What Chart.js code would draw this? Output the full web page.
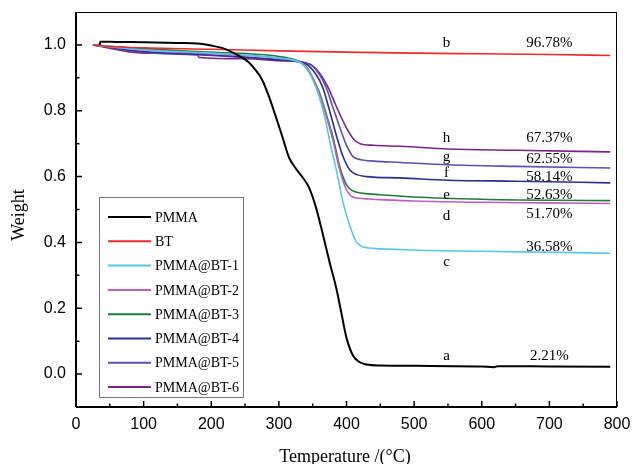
<!DOCTYPE html>
<html>
<head>
<meta charset="utf-8">
<script src="https://cdn.jsdelivr.net/npm/chart.js@4"></script>
<style>
  body { margin: 0; background: #fff; }
  #wrap { width: 634px; height: 464px; }
</style>
</head>
<body>
<div id="wrap"><canvas id="c" width="634" height="464"></canvas></div>
<script>
// Temperature (°C) / weight fraction
const seriesNames = ["PMMA", "BT", "PMMA@BT-1", "PMMA@BT-2", "PMMA@BT-3", "PMMA@BT-4", "PMMA@BT-5", "PMMA@BT-6"];
const seriesColors = ["#000000", "#ee2b2b", "#55c8e2", "#c25cbe", "#1f7d3f", "#2b2f8f", "#5b50b6", "#7b2488"];
const seriesWidths = [2, 1.6, 1.6, 1.6, 1.6, 1.6, 1.6, 1.6];

const pmmaT = [35, 36, 60, 100, 150, 180, 200, 220, 240, 255, 265, 275, 285, 295, 305, 315, 325, 335, 345, 355, 365, 375, 385, 392, 400, 410, 420, 430, 450, 500, 600, 618, 624, 700, 790];
const pmmaW = [1.0, 1.01, 1.009, 1.008, 1.006, 1.004, 0.998, 0.988, 0.968, 0.948, 0.925, 0.895, 0.845, 0.785, 0.722, 0.658, 0.625, 0.598, 0.565, 0.505, 0.425, 0.34, 0.26, 0.19, 0.11, 0.055, 0.036, 0.029, 0.026, 0.025, 0.023, 0.021, 0.024, 0.023, 0.022];

const btT = [25, 50, 100, 200, 300, 400, 500, 600, 700, 790];
const btW = [1.0, 0.995, 0.991, 0.987, 0.982, 0.978, 0.975, 0.973, 0.971, 0.968];

const bt1T = [25, 100, 200, 300, 330, 340, 350, 360, 368, 376, 385, 395, 405, 415, 425, 440, 500, 600, 700, 790];
const bt1W = [1.0, 0.985, 0.975, 0.96, 0.948, 0.93, 0.895, 0.84, 0.78, 0.70, 0.62, 0.52, 0.45, 0.40, 0.386, 0.382, 0.377, 0.373, 0.370, 0.367];

const bt2T = [25, 100, 200, 300, 330, 340, 350, 360, 370, 380, 390, 400, 410, 425, 450, 500, 600, 700, 790];
const bt2W = [1.0, 0.984, 0.973, 0.96, 0.948, 0.935, 0.90, 0.85, 0.785, 0.71, 0.62, 0.56, 0.537, 0.533, 0.530, 0.526, 0.522, 0.520, 0.518];

const bt3T = [25, 100, 200, 300, 330, 340, 350, 360, 370, 380, 390, 400, 410, 425, 450, 500, 600, 700, 790];
const bt3W = [1.0, 0.988, 0.978, 0.965, 0.95, 0.935, 0.90, 0.855, 0.79, 0.72, 0.63, 0.575, 0.556, 0.549, 0.545, 0.538, 0.531, 0.528, 0.527];

const bt4T = [25, 100, 200, 300, 340, 355, 365, 375, 385, 395, 405, 415, 430, 480, 550, 650, 790];
const bt4W = [1.0, 0.98, 0.97, 0.955, 0.942, 0.91, 0.87, 0.80, 0.725, 0.66, 0.62, 0.606, 0.60, 0.596, 0.589, 0.586, 0.581];

const bt5T = [25, 100, 200, 300, 345, 360, 370, 380, 390, 400, 410, 420, 440, 480, 550, 650, 790];
const bt5W = [1.0, 0.978, 0.968, 0.955, 0.942, 0.91, 0.87, 0.81, 0.75, 0.695, 0.66, 0.652, 0.647, 0.643, 0.636, 0.631, 0.626];

const bt6T = [25, 100, 180, 182, 250, 300, 345, 360, 372, 385, 400, 410, 420, 440, 480, 550, 650, 790];
const bt6W = [1.0, 0.975, 0.97, 0.962, 0.958, 0.952, 0.942, 0.915, 0.874, 0.813, 0.748, 0.715, 0.70, 0.695, 0.692, 0.684, 0.68, 0.675];

const allT = [pmmaT, btT, bt1T, bt2T, bt3T, bt4T, bt5T, bt6T];
const allW = [pmmaW, btW, bt1W, bt2W, bt3W, bt4W, bt5W, bt6W];

// curve letters and residue labels
const letterText = ["a", "b", "c", "d", "e", "f", "g", "h"];
const letterY = [0.055, 1.006, 0.339, 0.479, 0.545, 0.612, 0.658, 0.718];
const letterT = 548;
const pctText = ["2.21%", "96.78%", "36.58%", "51.70%", "52.63%", "58.14%", "62.55%", "67.37%"];
const pctY = [0.055, 1.006, 0.385, 0.485, 0.545, 0.60, 0.652, 0.718];
const pctT = 700;

const xMajor = [0, 100, 200, 300, 400, 500, 600, 700, 800];
const xMinor = [50, 150, 250, 350, 450, 550, 650, 750];
const yMajor = [0, 0.2, 0.4, 0.6, 0.8, 1.0];
const yMinor = [-0.1, 0.1, 0.3, 0.5, 0.7, 0.9];

const datasets = seriesNames.map((name, i) => ({
  label: name,
  data: allT[i].map((t, j) => ({ x: t, y: allW[i][j] })),
  borderColor: seriesColors[i],
  backgroundColor: seriesColors[i],
  borderWidth: seriesWidths[i],
  pointRadius: 0,
  cubicInterpolationMode: "monotone",
  fill: false
}));

const serif = "'Liberation Serif', 'Times New Roman', serif";

const decorations = {
  id: "decorations",
  afterDraw(chart) {
    const ctx = chart.ctx;
    const a = chart.chartArea;
    const xs = chart.scales.x, ys = chart.scales.y;
    ctx.save();
    // frame
    ctx.strokeStyle = "#000";
    ctx.lineWidth = 1;
    ctx.strokeRect(a.left + 0.5, a.top + 0.5, a.right - a.left - 1, a.bottom - a.top - 1);
    ctx.lineWidth = 2;
    ctx.beginPath();
    ctx.moveTo(a.left, a.bottom);
    ctx.lineTo(a.right, a.bottom);
    ctx.moveTo(a.left, a.top);
    ctx.lineTo(a.left, a.bottom);
    ctx.stroke();
    // inward ticks
    ctx.lineWidth = 1.5;
    ctx.beginPath();
    xMajor.forEach(v => { const p = xs.getPixelForValue(v); ctx.moveTo(p, a.bottom); ctx.lineTo(p, a.bottom - 6); });
    xMinor.forEach(v => { const p = xs.getPixelForValue(v); ctx.moveTo(p, a.bottom); ctx.lineTo(p, a.bottom - 3.5); });
    yMajor.forEach(v => { const p = ys.getPixelForValue(v); ctx.moveTo(a.left, p); ctx.lineTo(a.left + 6, p); });
    yMinor.forEach(v => { const p = ys.getPixelForValue(v); ctx.moveTo(a.left, p); ctx.lineTo(a.left + 3.5, p); });
    ctx.stroke();

    // axis titles
    ctx.fillStyle = "#000";
    ctx.font = "18px " + serif;
    ctx.textAlign = "center";
    ctx.textBaseline = "alphabetic";
    ctx.fillText("Temperature /(°C)", 345, 462);
    ctx.save();
    ctx.translate(24, 215);
    ctx.rotate(-Math.PI / 2);
    ctx.fillText("Weight", 0, 0);
    ctx.restore();

    // curve annotations
    ctx.font = "15px " + serif;
    ctx.textBaseline = "middle";
    letterText.forEach((s, i) => {
      ctx.fillText(s, xs.getPixelForValue(letterT), ys.getPixelForValue(letterY[i]));
    });
    pctText.forEach((s, i) => {
      ctx.fillText(s, xs.getPixelForValue(pctT), ys.getPixelForValue(pctY[i]));
    });

    // legend box
    const bx = 99, by = 197, bw = 144, bh = 200;
    ctx.fillStyle = "#fff";
    ctx.fillRect(bx, by, bw, bh);
    ctx.strokeStyle = "#777";
    ctx.lineWidth = 1;
    ctx.strokeRect(bx + 0.5, by + 0.5, bw, bh);
    ctx.font = "14px " + serif;
    ctx.textAlign = "left";
    chart.data.datasets.forEach((ds, i) => {
      const yy = 217 + i * 24.3;
      ctx.strokeStyle = ds.borderColor;
      ctx.lineWidth = 2;
      ctx.beginPath();
      ctx.moveTo(108, yy);
      ctx.lineTo(151, yy);
      ctx.stroke();
      ctx.fillStyle = "#000";
      ctx.fillText(ds.label, 155, yy + 1);
    });
    ctx.restore();
  }
};

new Chart(document.getElementById("c"), {
  type: "line",
  data: { datasets },
  options: {
    responsive: false,
    animation: false,
    layout: { padding: { top: 12, right: 17, left: 0, bottom: 0 } },
    plugins: { legend: { display: false }, tooltip: { enabled: false } },
    scales: {
      x: {
        type: "linear",
        min: 0,
        max: 800,
        afterBuildTicks: s => { s.ticks = xMajor.map(v => ({ value: v })); },
        afterFit: s => { s.height = 57; s.paddingLeft = 0; s.paddingRight = 0; },
        grid: { display: false, drawTicks: false },
        border: { display: false },
        ticks: { color: "#000", padding: 8, font: { family: "'Liberation Sans', Arial, sans-serif", size: 16 } }
      },
      y: {
        type: "linear",
        min: -0.1,
        max: 1.1,
        afterBuildTicks: s => { s.ticks = yMajor.map(v => ({ value: v })); },
        afterFit: s => { s.width = 76; s.paddingTop = 0; s.paddingBottom = 0; },
        grid: { display: false, drawTicks: false },
        border: { display: false },
        ticks: {
          color: "#000",
          padding: 10,
          font: { family: "'Liberation Sans', Arial, sans-serif", size: 16 },
          callback: v => v.toFixed(1)
        }
      }
    }
  },
  plugins: [decorations]
});
</script>
</body>
</html>
